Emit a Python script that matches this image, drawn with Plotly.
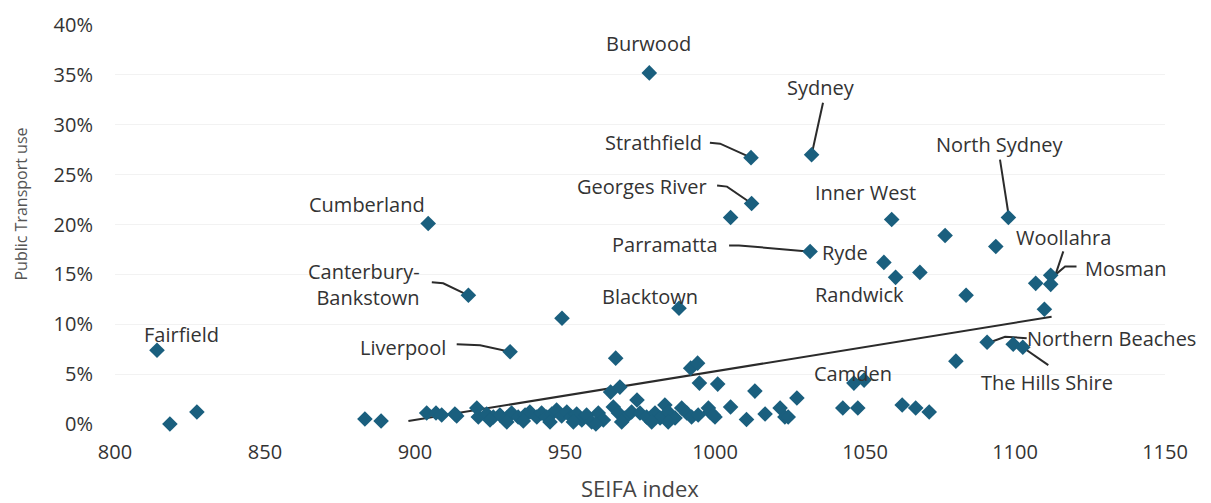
import plotly.graph_objects as go

# SEIFA index vs public transport use (%), one point per LGA
seifa = [814.0, 818.3, 827.3, 883.3, 888.7, 904.4, 917.8, 931.7, 949.0, 978.1,
         988.0, 1012.0, 1032.2, 1012.2, 1005.2, 1031.7, 1058.9, 1076.7, 1056.3, 1060.2,
         1068.3, 1083.7, 1097.8, 1093.6, 1111.9, 1111.9, 1106.9, 1109.8, 1090.7, 1099.4,
         1102.6, 1080.3, 966.9, 991.9, 994.2, 994.8, 1000.9, 1013.3, 1027.3, 965.2,
         968.3, 974.0, 966.1, 903.9, 907.0, 913.9, 920.6, 921.1, 1005.2, 1010.5,
         1016.7, 1021.7, 1023.3, 1024.4, 998.3, 1000.0, 1042.6, 1047.6, 1046.3, 1049.7,
         1062.4, 1066.9, 1071.4, 908.9, 913.3, 923.9, 926.1, 928.3, 930.6, 932.2,
         934.4, 936.7, 938.3, 940.6, 942.2, 943.9, 945.6, 947.2, 948.9, 950.6,
         952.2, 953.9, 955.6, 957.2, 925.0, 930.6, 936.1, 945.0, 952.8, 961.1,
         962.8, 967.8, 970.0, 972.2, 975.0, 977.2, 980.0, 981.7, 983.3, 984.4,
         986.7, 988.9, 990.6, 992.2, 994.4, 997.8, 999.4, 958.9, 968.9, 978.9,
         984.4, 960.3]
pt_use = [7.4, 0.0, 1.2, 0.5, 0.3, 20.1, 12.9, 7.25, 10.6, 35.2,
          11.6, 26.7, 27.0, 22.1, 20.7, 17.3, 20.5, 18.9, 16.2, 14.7,
          15.2, 12.9, 20.7, 17.8, 14.9, 14.0, 14.1, 11.5, 8.2, 8.0,
          7.7, 6.3, 6.6, 5.6, 6.1, 4.1, 4.0, 3.3, 2.6, 3.2,
          3.7, 2.4, 1.7, 1.1, 1.1, 0.8, 1.6, 0.7, 1.7, 0.45,
          1.0, 1.6, 0.7, 0.7, 1.2, 0.7, 1.6, 1.6, 4.1, 4.4,
          1.9, 1.6, 1.2, 0.9, 1.0, 1.0, 0.7, 0.9, 0.6, 1.1,
          0.7, 0.9, 1.2, 0.7, 1.1, 0.7, 1.0, 1.4, 0.8, 1.2,
          0.7, 1.0, 0.4, 0.9, 0.4, 0.2, 0.3, 0.2, 0.2, 1.1,
          0.4, 1.1, 0.6, 1.2, 1.1, 0.7, 1.1, 0.6, 1.9, 1.2,
          0.6, 1.6, 1.1, 0.7, 0.9, 1.6, 0.9, 0.2, 0.2, 0.2,
          0.2, 0.0]

# linear trend line end points
trend_x = [897.8, 1112.2]
trend_y = [0.3, 10.75]

x_ticks = [800, 850, 900, 950, 1000, 1050, 1100, 1150]
y_ticks = [0, 5, 10, 15, 20, 25, 30, 35, 40]
y_tick_text = [f"{v}%" for v in y_ticks]

# label text, position, alignment
labels = [
    ("Burwood", 977.7, 38.1, "center"),
    ("Sydney", 1035.3, 33.7, "center"),
    ("Strathfield", 996.3, 28.2, "right"),
    ("Georges River", 998.0, 23.8, "right"),
    ("Parramatta", 1001.7, 18.0, "right"),
    ("Ryde", 1035.0, 17.2, "left"),
    ("Inner West", 1050.3, 23.2, "center"),
    ("North Sydney", 1095.0, 28.0, "center"),
    ("Woollahra", 1116.0, 18.7, "center"),
    ("Mosman", 1122.7, 15.6, "left"),
    ("Randwick", 1048.0, 13.0, "center"),
    ("Blacktown", 978.3, 12.8, "center"),
    ("Cumberland", 884.0, 22.0, "center"),
    ("Canterbury-<br>Bankstown", 902.3, 14.0, "right"),
    ("Liverpool", 911.0, 7.7, "right"),
    ("Fairfield", 822.0, 9.0, "center"),
    ("Camden", 1046.0, 5.1, "center"),
    ("Northern Beaches", 1132.3, 8.6, "center"),
    ("The Hills Shire", 1110.7, 4.2, "center"),
]

# leader lines (x list, y list)
leaders = [
    ([998.3, 1001.7, 1012.0], [28.2, 28.1, 26.7]),
    ([1000.7, 1004.0, 1012.2], [23.9, 23.8, 22.1]),
    ([1004.7, 1008.0, 1031.0], [17.9, 17.9, 17.3]),
    ([1036.0, 1032.2], [32.2, 27.0]),
    ([1095.0, 1098.0], [26.5, 20.7]),
    ([1120.5, 1116.7, 1112.8], [15.8, 15.8, 14.8]),
    ([1116.1, 1113.3], [17.3, 14.8]),
    ([1103.9, 1096.7, 1091.7], [8.6, 8.75, 8.2]),
    ([1111.1, 1100.6], [5.9, 8.1]),
    ([905.6, 909.4, 917.8], [14.2, 14.1, 12.9]),
    ([913.9, 921.7, 931.7], [8.0, 7.9, 7.25]),
]

txt = "#333333"
fam = "Open Sans"
fig = go.Figure()

for lx, ly in leaders:
    fig.add_trace(go.Scatter(x=lx, y=ly, mode="lines", line=dict(color="#2b2b2b", width=2),
                             hoverinfo="skip", cliponaxis=False))

fig.add_trace(go.Scatter(x=trend_x, y=trend_y, mode="lines",
                         line=dict(color="#2b2b2b", width=2), hoverinfo="skip"))

fig.add_trace(go.Scatter(
    x=seifa, y=pt_use, mode="markers", cliponaxis=False,
    marker=dict(symbol="diamond", size=12, color="#1a5f7e", line=dict(width=0)),
))

for text, lx, ly, al in labels:
    fig.add_annotation(x=lx, y=ly, text=text, showarrow=False, xanchor=al,
                       align=al, font=dict(size=20, color=txt))

# axis titles
fig.add_annotation(x=0, y=0.55, xref="paper", yref="paper", text="Public Transport use",
                   showarrow=False, textangle=-90, xanchor="center", yanchor="middle",
                   xshift=-94, borderpad=0, font=dict(size=16, color="#555555"))
fig.add_annotation(x=0.5, y=0, xref="paper", yref="paper", text="SEIFA index",
                   showarrow=False, xanchor="center", yanchor="middle",
                   yshift=-64, font=dict(size=22, color="#444444"))

# page body adds an 8px offset, so the figure is 8px smaller
fig.update_layout(
    width=1203, height=495,
    margin=dict(l=107, r=46, t=17, b=79, autoexpand=False),
    paper_bgcolor="white", plot_bgcolor="white",
    showlegend=False,
    font=dict(family=fam, color=txt),
    xaxis=dict(range=[800, 1150], tickvals=x_ticks, showgrid=False, zeroline=False,
               showline=False, ticks="outside", ticklen=10, tickcolor="rgba(0,0,0,0)",
               tickfont=dict(size=20, color=txt)),
    yaxis=dict(range=[0, 40], tickvals=y_ticks, ticktext=y_tick_text, showgrid=True,
               gridcolor="#f2f2f2", gridwidth=1, zeroline=False, showline=False,
               ticks="outside", ticklen=17, tickcolor="rgba(0,0,0,0)",
               tickfont=dict(size=20, color=txt)),
)

fig.write_html("out.html")
